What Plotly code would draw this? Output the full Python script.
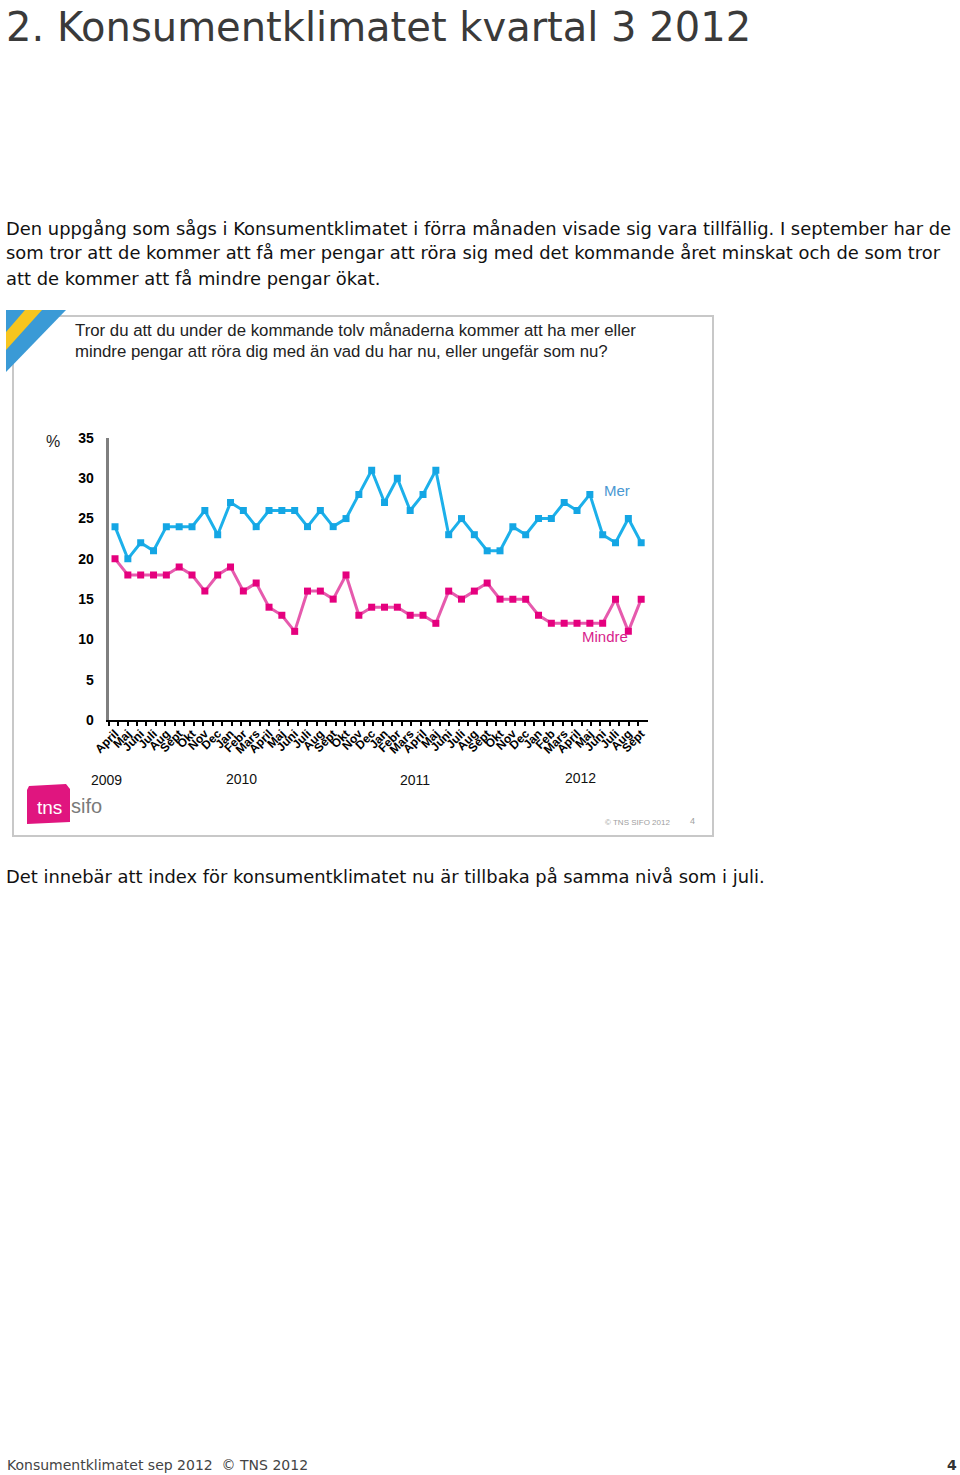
import plotly.graph_objects as go

W, H = 960, 1475

months = ["April", "Maj", "Juni", "Juli", "Aug", "Sept", "Okt", "Nov", "Dec",
          "Jan", "Febr", "Mars", "April", "Maj", "Juni", "Juli", "Aug", "Sept", "Okt", "Nov", "Dec",
          "Jan", "Febr", "Mars", "April", "Maj", "Juni", "Juli", "Aug", "Sept", "Okt", "Nov", "Dec",
          "Jan", "Feb", "Mars", "April", "Maj", "Juni", "Juli", "Aug", "Sept"]
mer = [24, 20, 22, 21, 24, 24, 24, 26, 23,
       27, 26, 24, 26, 26, 26, 24, 26, 24, 25, 28, 31,
       27, 30, 26, 28, 31, 23, 25, 23, 21, 21, 24, 23, 25,
       25, 27, 26, 28, 23, 22, 25, 22]
mindre = [20, 18, 18, 18, 18, 19, 18, 16, 18,
          19, 16, 17, 14, 13, 11, 16, 16, 15, 18, 13, 14,
          14, 14, 13, 13, 12, 16, 15, 16, 17, 15, 15, 15, 13,
          12, 12, 12, 12, 12, 15, 11, 15]
years = ["2009", "2010", "2011", "2012"]
yticks = [0, 5, 10, 15, 20, 25, 30, 35]

idx = list(range(len(months)))


def px(x):
    return x / W


def py(y):
    return 1 - y / H


fig = go.Figure()
fig.add_trace(go.Scatter(x=idx, y=mer, mode="lines+markers", name="Mer",
                         line=dict(color="#1cb0ea", width=3),
                         marker=dict(symbol="square", size=7, color="#14a6e4"),
                         showlegend=False))
fig.add_trace(go.Scatter(x=idx, y=mindre, mode="lines+markers", name="Mindre",
                         line=dict(color="#e65aad", width=3),
                         marker=dict(symbol="square", size=7, color="#e5007e"),
                         showlegend=False))

fig.update_layout(
    template="none",
    width=W, height=H,
    margin=dict(l=0, r=0, t=0, b=0, pad=0, autoexpand=False),
    paper_bgcolor="white", plot_bgcolor="white",
    showlegend=False,
    xaxis=dict(domain=[px(108.6), px(647.6)], range=[-0.5, 41.5], automargin=False,
               tickmode="array", tickvals=idx, ticktext=months, tickangle=-45,
               ticks="", showgrid=False, zeroline=False,
               showline=True, linecolor="black", linewidth=2,
               tickfont=dict(family="Arial, Liberation Sans", size=12, color="black", weight="bold"),
               ticklabelstandoff=0,
               minor=dict(tickmode="linear", tick0=-0.5, dtick=0.737, ticks="outside",
                          ticklen=4, tickwidth=2, tickcolor="black", showgrid=False)),
    yaxis=dict(domain=[py(720), py(438)], range=[0, 35], automargin=False,
               tickmode="array", tickvals=yticks, ticks="", showgrid=False, zeroline=False,
               showline=True, linecolor="#7f7f7f", linewidth=3,
               tickfont=dict(family="Arial, Liberation Sans", size=14, color="black", weight="bold"),
               ticklabelstandoff=9),
)

shapes = []
shapes.append(dict(type="rect", xref="paper", yref="paper",
                   x0=px(13), x1=px(713), y0=py(836), y1=py(316),
                   line=dict(color="#c8c8c8", width=2), fillcolor="rgba(0,0,0,0)", layer="below"))


def path(pts):
    return "M " + " L ".join(f"{px(a)},{py(b)}" for a, b in pts) + " Z"


shapes.append(dict(type="path", xref="paper", yref="paper",
                   path=path([(6, 310), (66, 310), (6, 372)]),
                   fillcolor="#3a9ad6", line=dict(width=0)))
shapes.append(dict(type="path", xref="paper", yref="paper",
                   path=path([(25, 310), (42, 310), (6, 350), (6, 332)]),
                   fillcolor="#f7c51e", line=dict(width=0)))
shapes.append(dict(type="path", xref="paper", yref="paper",
                   path=path([(27, 790), (29, 786), (66, 784), (70, 789), (70, 822), (27, 824)]),
                   fillcolor="#e0157f", line=dict(width=0)))
fig.update_layout(shapes=shapes)

ann = []


def text(x, y, s, size, color="#222", family="DejaVu Sans, Verdana", xanchor="left", weight="normal"):
    ann.append(dict(x=px(x), y=py(y), xref="paper", yref="paper", text=s, showarrow=False,
                    xanchor=xanchor, yanchor="middle", borderpad=0,
                    font=dict(size=size, color=color, family=family, weight=weight)))


text(5, 27, "2. Konsumentklimatet kvartal 3 2012", 40, color="#3a3a3a")
body = ["Den uppgång som sågs i Konsumentklimatet i förra månaden visade sig vara tillfällig. I september har de",
        "som tror att de kommer att få mer pengar att röra sig med det kommande året minskat och de som tror",
        "att de kommer att få mindre pengar ökat."]
for i, line in enumerate(body):
    text(5, 228 + 25 * i, line, 17.9, color="#111")
text(5, 877, "Det innebär att index för konsumentklimatet nu är tillbaka på samma nivå som i juli.", 17.9, color="#111")

q = ["Tror du att du under de kommande tolv månaderna kommer att ha mer eller",
     "mindre pengar att röra dig med än vad du har nu, eller ungefär som nu?"]
for i, line in enumerate(q):
    text(74, 330 + 21 * i, line, 16.8, color="#222", family="Arial, Liberation Sans")

text(45, 442, "%", 16, color="#222", family="Arial, Liberation Sans")

year_x = [106, 241, 415, 580]
year_y = [780, 779, 780, 778]
for yl, xx, yy in zip(years, year_x, year_y):
    text(xx, yy, yl, 14, color="#111", family="Arial, Liberation Sans", xanchor="center")

text(617, 490, "Mer", 15, color="#4a98d2", family="Arial, Liberation Sans", xanchor="center")
text(605, 636, "Mindre", 15, color="#d81e8c", family="Arial, Liberation Sans", xanchor="center")

text(36, 807, "tns", 19, color="white", family="Arial, Liberation Sans")
text(70, 806, "sifo", 20, color="#7a7a7a", family="Arial, Liberation Sans")
text(604, 822, "© TNS SIFO 2012", 8, color="#a0a0a0", family="Arial, Liberation Sans")
text(689, 821, "4", 9, color="#a0a0a0", family="Arial, Liberation Sans")

text(6, 1465, "Konsumentklimatet sep 2012  © TNS 2012", 14, color="#444")
text(958, 1465, "4", 14, color="#333", xanchor="right", weight="bold")

fig.update_layout(annotations=ann)
fig.write_html("out.html")
